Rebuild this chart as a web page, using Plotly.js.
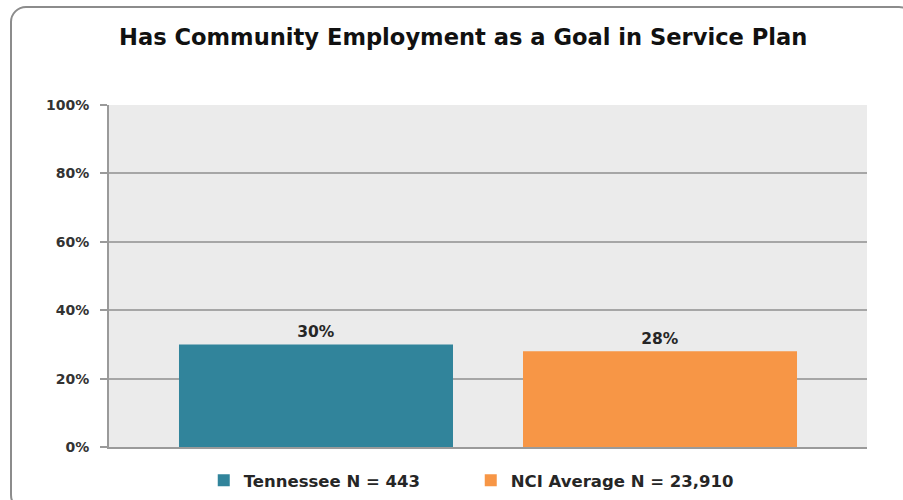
<!DOCTYPE html>
<html>
<head>
<meta charset="utf-8">
<script src="https://cdn.plot.ly/plotly-3.0.1.min.js"></script>
<style>
  html, body { margin: 0; padding: 0; background: #fff; overflow: hidden; }
  #wrap { position: relative; width: 903px; height: 500px; }
  #chart { position: absolute; left: 0; top: 0; width: 903px; height: 500px; }
  #frame { position: absolute; left: 10px; top: 6px; width: 905px; height: 505px;
           border: 2px solid #8c8c8c; border-radius: 16px; pointer-events: none; box-sizing: border-box; }
</style>
</head>
<body>
<div id="wrap">
  <div id="chart"></div>
  <div id="frame"></div>
</div>
<script>
const chartTitle = "Has Community Employment as a Goal in Service Plan";
const category = ["Has Community Employment"];
const seriesNames = ["Tennessee N = 443", "NCI Average N = 23,910"];
const seriesValues = [30, 28];
const seriesColors = ["#31849b", "#f79646"];
const yTickVals = [0, 20, 40, 60, 80, 100];
const yTickText = ["0%", "20%", "40%", "60%", "80%", "100%"];

const fontFam = "'DejaVu Sans', 'Liberation Sans', Arial, sans-serif";

const traces = seriesNames.map((name, i) => ({
  type: "bar",
  name: name,
  x: category,
  y: [seriesValues[i]],
  marker: { color: seriesColors[i] },
  text: [seriesValues[i] + "%"],
  textposition: "outside",
  cliponaxis: false,
  textfont: { family: fontFam, size: 15.5, color: "#262626", weight: "bold" },
  hoverinfo: "skip"
}));

const layout = {
  width: 903,
  height: 500,
  margin: { l: 109, r: 36, t: 105, b: 53, pad: 0, autoexpand: false },
  paper_bgcolor: "rgba(0,0,0,0)",
  plot_bgcolor: "#ebebeb",
  barmode: "group",
  bargap: 0.0923,
  bargroupgap: 0.2035,
  showlegend: true,
  title: {
    text: chartTitle,
    font: { family: fontFam, size: 22.6, color: "#111111", weight: "bold" },
    x: 0.513, xanchor: "center",
    y: 0.926, yanchor: "middle", yref: "container"
  },
  xaxis: {
    showticklabels: false,
    showgrid: false,
    showline: true,
    linecolor: "#9a9a9a",
    linewidth: 2,
    ticks: "",
    zeroline: false,
    fixedrange: true
  },
  yaxis: {
    range: [0, 100],
    tickvals: yTickVals,
    ticktext: yTickText,
    showgrid: true,
    gridcolor: "#a6a6a6",
    gridwidth: 2,
    showline: true,
    linecolor: "#9a9a9a",
    linewidth: 2,
    ticks: "outside",
    ticklen: 7,
    tickwidth: 2,
    tickcolor: "#9a9a9a",
    ticklabelstandoff: 8,
    zeroline: false,
    tickfont: { family: fontFam, size: 14, color: "#333333", weight: "bold" },
    fixedrange: true
  },
  legend: {
    orientation: "h",
    x: 0.125, xanchor: "left",
    y: -0.047, yanchor: "top",
    entrywidth: 222,
    entrywidthmode: "pixels",
    traceorder: "normal",
    font: { family: fontFam, size: 16.5, color: "#262626", weight: "bold" },
    bgcolor: "rgba(0,0,0,0)"
  }
};

Plotly.newPlot("chart", traces, layout, { displayModeBar: false, staticPlot: true });
</script>
</body>
</html>
